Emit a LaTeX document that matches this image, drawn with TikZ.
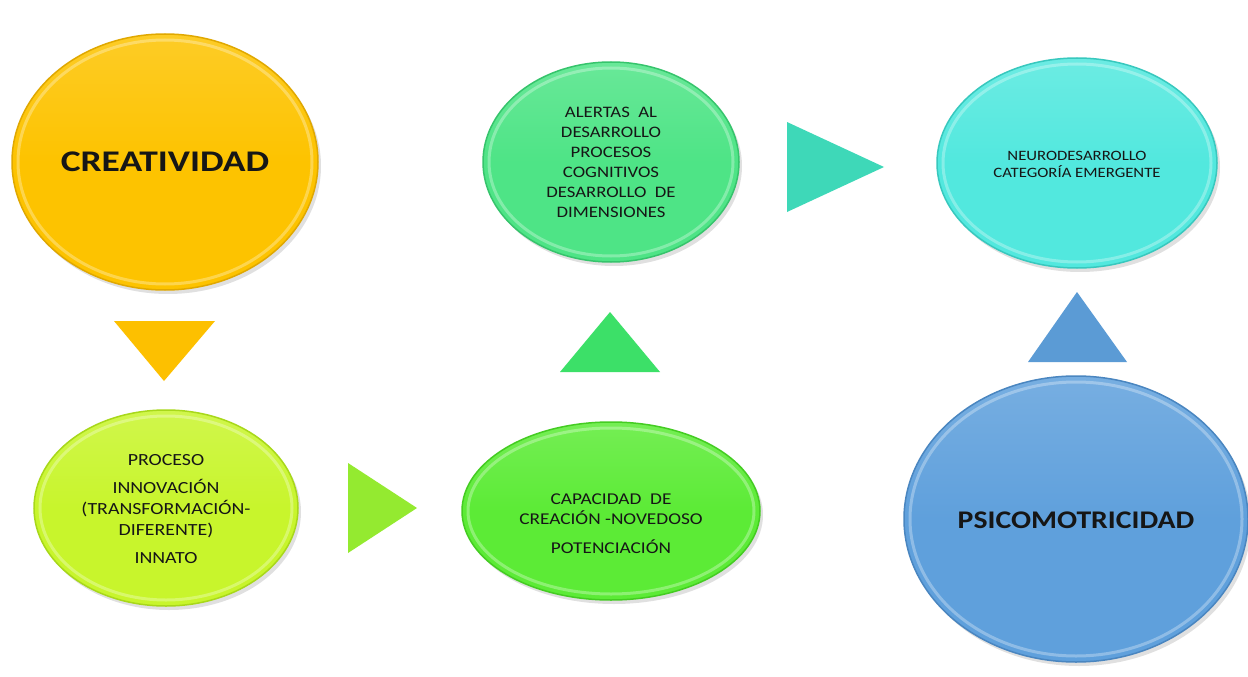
\documentclass[tikz,border=0pt]{standalone}
\usepackage{fontspec}
\setmainfont{Carlito}
\usetikzlibrary{shapes.geometric}
\definecolor{creC}{HTML}{FDC300}
\definecolor{creE}{HTML}{E0A800}
\definecolor{proC}{HTML}{C8F52C}
\definecolor{proE}{HTML}{A8D81A}
\definecolor{capC}{HTML}{5CEB36}
\definecolor{capE}{HTML}{44CC22}
\definecolor{aleC}{HTML}{4EE486}
\definecolor{aleE}{HTML}{36C46C}
\definecolor{neuC}{HTML}{52E8DE}
\definecolor{neuE}{HTML}{38C8BE}
\definecolor{psiC}{HTML}{5FA0DC}
\definecolor{psiE}{HTML}{4A86C0}
\definecolor{triO}{HTML}{FDC000}
\definecolor{triY}{HTML}{94EA30}
\definecolor{triG}{HTML}{3CE068}
\definecolor{triT}{HTML}{3ED8B8}
\definecolor{triB}{HTML}{5B9BD5}
\definecolor{txt}{HTML}{161616}
\newcommand\stx[1]{\scalebox{1.17}[1]{#1}}
\newcommand\stxb[1]{\scalebox{1.25}[1]{#1}}
\tikzset{
  bubble/.style={ellipse, inner sep=0pt},
  label text/.style={inner sep=0pt, text=txt, align=center},
  ring/.style={draw=white, draw opacity=0.3, line width=3pt}
}
% name, x, y, rx, ry, colour, edge colour, text offset down (px), text
\newcommand\bub[9]{%
  \fill[black, opacity=0.12] (#2+3,#3+4) ellipse [x radius=#4pt, y radius=#5pt];
  \node[bubble, minimum width={2*#4pt}, minimum height={2*#5pt},
        top color=#6!85!white, bottom color=#6, middle color=#6,
        draw=#7, line width=1.5pt] (#1) at (#2,#3) {};
  \draw[ring] (#1.center) ellipse [x radius={#4pt-6pt}, y radius={#5pt-6pt}];
  \node[label text] (#1-t) at ([yshift=-#8pt]#1.center) {#9};
}
\begin{document}
\begin{tikzpicture}[x=1pt, y=-1pt]
\fill[white] (0,0) rectangle (1248,677);
\useasboundingbox (0,0) rectangle (1248,677);

\bub{cre}{165}{162}{153}{128}{creC}{creE}{0}{\stxb{\fontsize{30}{34}\bfseries\selectfont CREATIVIDAD}}
\bub{pro}{166}{508}{132}{98}{proC}{proE}{2}{\stx{\fontsize{17}{21}\selectfont\begin{tabular}{@{}c@{}}PROCESO\\[7pt] INNOVACIÓN\\ (TRANSFORMACIÓN-\\ DIFERENTE)\\[7pt] INNATO\end{tabular}}}
\bub{cap}{611}{511}{149}{89}{capC}{capE}{14}{\stx{\fontsize{16.5}{20}\selectfont\begin{tabular}{@{}c@{}}CAPACIDAD\ \ DE\\ CREACIÓN\ -NOVEDOSO\\[9pt] POTENCIACIÓN\end{tabular}}}
\bub{ale}{611}{162}{128}{100}{aleC}{aleE}{1.5}{\stx{\fontsize{16}{20}\selectfont\begin{tabular}{@{}c@{}}ALERTAS\ \ AL\\ DESARROLLO\\ PROCESOS\\ COGNITIVOS\\ DESARROLLO\ \ DE\\ DIMENSIONES\end{tabular}}}
\bub{neu}{1077}{163}{140}{105}{neuC}{neuE}{3}{\stx{\fontsize{14.3}{17}\selectfont\begin{tabular}{@{}c@{}}NEURODESARROLLO\\ CATEGORÍA EMERGENTE\end{tabular}}}
\bub{psi}{1076}{519}{172}{143}{psiC}{psiE}{1}{\stx{\fontsize{25.4}{30}\bfseries\selectfont PSICOMOTRICIDAD}}

% arrow triangles
\fill[triO] (114,321) -- (215,321) -- (164,381) -- cycle;
\fill[triY] (348,463) -- (417,508) -- (348,553) -- cycle;
\fill[triG] (560,372) -- (660,372) -- (610,312) -- cycle;
\fill[triT] (787,122) -- (884,167) -- (787,212) -- cycle;
\fill[triB] (1028,362) -- (1127,362) -- (1077,292) -- cycle;
\end{tikzpicture}
\end{document}
